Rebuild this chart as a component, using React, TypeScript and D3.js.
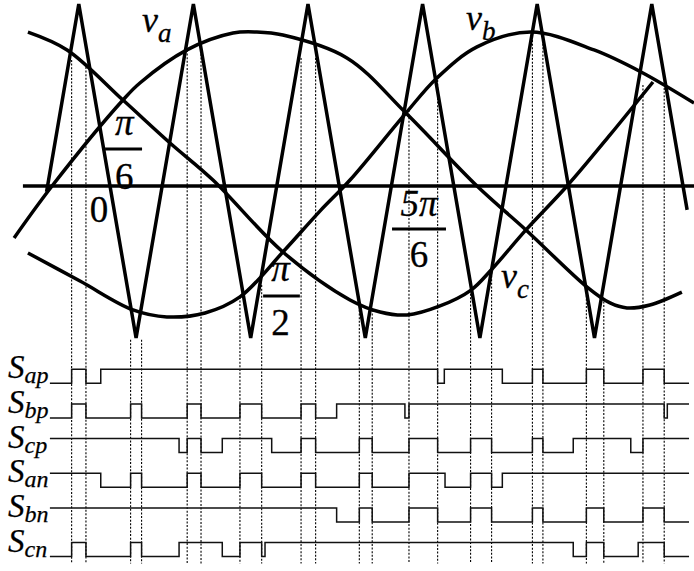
import React from 'react';
import * as d3 from 'd3';

const W = 694;
const H = 571;
const SERIF = "'Liberation Serif'";

// Time axis in electrical degrees; amplitudes normalised to the carrier peak.
// Triangular carrier: [degree, level] at each turning point.
const carrierVertices: [number, number][] = [
  [-19.5, -0.125], [-6, 1], [18, -1], [42, 1], [66, -1], [90, 1], [114, -1],
  [138, 1], [162, -1], [186, 1], [210, -1], [234, 1], [248.8, -0.233],
];

// Three-phase references, sampled along each curve.
const phaseA: [number, number][] = [
  [-33.1, -0.401], [-17.2, -0.09], [12.5, 0.425], [19.6, 0.527], [39.3, 0.725],
  [58.6, 0.826], [68.6, 0.832], [79.5, 0.814], [106.3, 0.677], [131.0, 0.347],
  [160.8, -0.09], [181.3, -0.353], [206.9, -0.695], [216.5, -0.79], [223.6, -0.82],
  [233.2, -0.802], [246.6, -0.725],
];
const phaseB: [number, number][] = [
  [-27.3, -0.491], [-5.5, -0.659], [16.7, -0.832], [30.9, -0.874], [46.9, -0.85],
  [61.5, -0.754], [79.5, -0.485], [95.0, -0.24], [107.6, -0.054], [131.0, 0.347],
  [144.0, 0.557], [160.8, 0.743], [183.4, 0.832], [209.8, 0.725], [229.5, 0.593],
  [251.7, 0.407],
];
const phaseC: [number, number][] = [
  [-27.3, 0.832], [-10.9, 0.725], [12.5, 0.425], [32.2, 0.168], [50.2, -0.054],
  [79.5, -0.485], [107.6, -0.772], [120.2, -0.844], [131.5, -0.862], [145.3, -0.808],
  [158.3, -0.713], [166.7, -0.593], [181.3, -0.353], [198.5, -0.09], [216.5, 0.216],
  [234.5, 0.533],
];

const zeroLevel = -0.09;
const axisStart = -29.4;
const axisEnd = 251.7;

// Switching instants (degrees) and the reference level where each one is taken.
const switchTimes = [
  -9.0, -3.0, 15.7, 20.3, 39.4, 45.2, 61.5, 70.6, 87.1, 93.2, 111.5,
  116.9, 132.3, 144.3, 158.1, 166.9, 184.0, 188.4, 206.6, 213.9, 230.3, 239.2,
];
const switchLevels = [
  0.665, 0.623, -1.01, -1.01, 0.725, 0.766, -0.754, -0.683, 0.677, 0.677, -0.832,
  -0.832, 0.365, 0.545, -0.713, -0.605, 0.784, 0.784, -0.701, -0.76, 0.515, 0.497,
];

// Gate signals: name, initial state (1 = high) and toggle instants.
const gateNames = ['ap', 'bp', 'cp', 'an', 'bn', 'cn'];
const gateInitial = [0, 0, 1, 1, 1, 0];
const gateEdges: number[][] = [
  [-9.0, -3.0, 3.2, 144.3, 147.1, 171.4, 184.0, 188.4, 206.6, 213.9, 230.3, 239.2],
  [-9.0, -3.0, 15.7, 20.3, 39.4, 45.2, 61.5, 70.6, 87.1, 93.2, 102.0, 130.6, 132.3, 239.2, 240.5],
  [36.0, 39.4, 45.2, 54.1, 74.8, 87.1, 93.2, 111.5, 116.9, 132.3, 144.3, 158.1, 166.9, 184.0, 188.4, 201.1, 225.2, 230.3],
  [3.2, 15.7, 20.3, 39.4, 45.2, 61.5, 70.6, 87.1, 93.2, 111.5, 116.9, 132.3, 147.4, 158.1, 166.9, 171.4],
  [102.0, 111.5, 116.9, 132.3, 144.3, 158.1, 166.9, 184.0, 188.4, 206.6, 213.9, 230.3, 239.2],
  [-9.0, -3.0, 15.7, 20.3, 36.0, 54.1, 61.5, 70.6, 72.0, 201.1, 206.6, 213.9, 228.3, 239.2],
];
const gateStart = -18.1;
const gateEnd = 249.6;

export default function App() {
  const x = d3.scaleLinear().domain([-39, 251.68]).range([0, W]);
  const y = d3.scaleLinear().domain([-1, 1]).range([338, 4]);
  const rowLow = d3.scaleLinear().domain([0, 5]).range([383.3, 556.6]);
  const pulse = 14;

  const poly = d3
    .line<[number, number]>()
    .x((d) => x(d[0]))
    .y((d) => y(d[1]));
  const smooth = d3
    .line<[number, number]>()
    .x((d) => x(d[0]))
    .y((d) => y(d[1]))
    .curve(d3.curveCatmullRom.alpha(0.5));

  const stepPath = (i: number) => {
    const lo = rowLow(i);
    const hi = lo - pulse;
    let state = gateInitial[i];
    const pts: [number, number][] = [[x(gateStart), state ? hi : lo]];
    for (const e of gateEdges[i]) {
      pts.push([x(e), state ? hi : lo]);
      state = 1 - state;
      pts.push([x(e), state ? hi : lo]);
    }
    pts.push([x(gateEnd), state ? hi : lo]);
    return d3.line()(pts) as string;
  };

  const dottedBottom = rowLow(5) + 7;

  const thick = { fill: 'none', stroke: '#000', strokeWidth: 3.5 };
  const serif = { fontFamily: SERIF };
  // slight outline gives the glyphs the heavier weight of the printed labels
  const ink = { fill: '#000', stroke: '#000', strokeWidth: 0.3 };

  const Fraction = (p: {
    num: string; den: string; t: number; numV: number; barV: number; denV: number; barFrom: number; barTo: number;
  }) => (
    <g style={serif} fontSize={37} textAnchor="middle">
      <text x={x(p.t)} y={y(p.numV)} fontStyle="italic" {...ink}>{p.num}</text>
      <line x1={x(p.barFrom)} x2={x(p.barTo)} y1={y(p.barV)} y2={y(p.barV)} stroke="#000" strokeWidth={3} />
      <text x={x(p.t)} y={y(p.denV)} {...ink}>{p.den}</text>
    </g>
  );

  return (
    <svg
      width={W}
      height={H}
      viewBox={`0 0 ${W} ${H}`}
      style={{ position: 'absolute', left: 0, top: 0, background: '#fff' }}
    >
      <rect width={W} height={H} fill="#fff" />

      {/* switching instants */}
      <g stroke="#000" strokeWidth={1.1} strokeDasharray="2 1.6">
        {switchTimes.map((t, i) => (
          <line key={i} x1={x(t)} x2={x(t)} y1={y(switchLevels[i])} y2={dottedBottom} />
        ))}
      </g>

      {/* zero line */}
      <line x1={x(axisStart)} x2={x(axisEnd)} y1={y(zeroLevel)} y2={y(zeroLevel)} stroke="#000" strokeWidth={3.5} />

      {/* references and carrier */}
      <path d={smooth(phaseA) as string} {...thick} />
      <path d={smooth(phaseB) as string} {...thick} />
      <path d={smooth(phaseC) as string} {...thick} />
      <path d={poly(carrierVertices) as string} {...thick} strokeLinejoin="bevel" />

      {/* phase labels */}
      <g style={serif} fontStyle="italic" {...ink}>
        <text x={x(20.5)} y={y(0.832)} fontSize={36}>v<tspan fontSize={27} dy={10}>a</tspan></text>
        <text x={x(156.2)} y={y(0.844)} fontSize={36}>v<tspan fontSize={27} dy={10}>b</tspan></text>
        <text x={x(170.8)} y={y(-0.701)} fontSize={36}>v<tspan fontSize={27} dy={10}>c</tspan></text>
      </g>

      {/* angle marks */}
      <text x={x(2.5)} y={y(-0.305)} style={serif} fontSize={37} textAnchor="middle" {...ink}>0</text>
      <Fraction num="π" den="6" t={13} numV={0.216} barV={0.132} denV={-0.108} barFrom={5.0} barTo={20.5} />
      <Fraction num="π" den="2" t={78.5} numV={-0.659} barV={-0.749} denV={-0.982} barFrom={71.2} barTo={86.6} />
      <Fraction num="5π" den="6" t={136.5} numV={-0.269} barV={-0.347} denV={-0.575} barFrom={125.2} barTo={147.8} />

      {/* gate signals */}
      <g fill="none" stroke="#111" strokeWidth={1.5}>
        {gateNames.map((g, i) => (
          <path key={g} d={stepPath(i)} />
        ))}
      </g>
      <g style={serif} fontStyle="italic" {...ink} strokeWidth={0.25}>
        {gateNames.map((g, i) => (
          <text key={g} x={8} y={rowLow(i) - 5} fontSize={33}>
            S<tspan fontSize={24} dy={5}>{g}</tspan>
          </text>
        ))}
      </g>
    </svg>
  );
}
